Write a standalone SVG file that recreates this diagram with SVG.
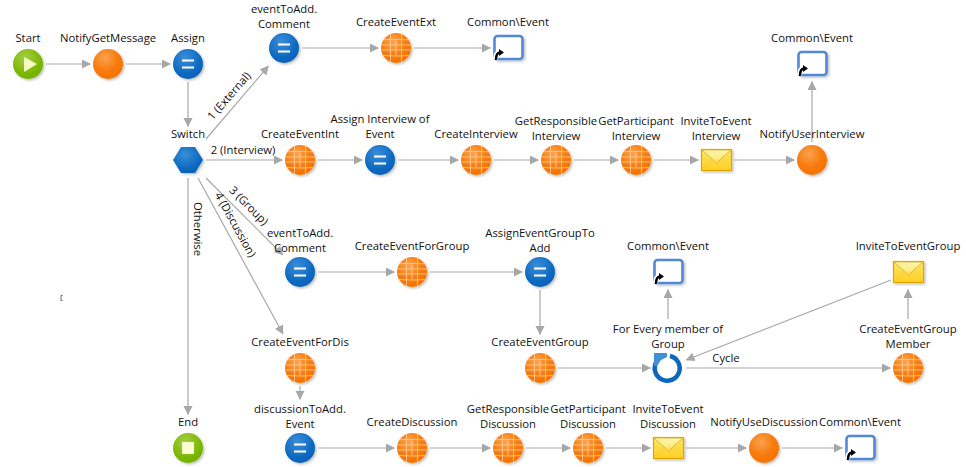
<svg xmlns="http://www.w3.org/2000/svg" width="966" height="467" viewBox="0 0 966 467">
<style>
text{font-family:"Open Sans","Noto Sans","Liberation Sans",sans-serif;font-size:11.3px;fill:#111;text-anchor:middle}
.c line{stroke:#a8a8a8;stroke-width:1.2;fill:none;marker-end:url(#a)}
</style>
<defs>
<marker id="a" markerUnits="userSpaceOnUse" markerWidth="10" markerHeight="10" refX="8.500" refY="4.500" orient="auto"><path d="M0 0L9 4.500L0 9z" fill="#a8a8a8"/></marker>
<radialGradient id="gO" cx=".4" cy=".3" r=".75"><stop offset="0" stop-color="#fba24e"/><stop offset=".6" stop-color="#f87a0a"/><stop offset="1" stop-color="#f57200"/></radialGradient>
<radialGradient id="gB" cx=".4" cy=".3" r=".8"><stop offset="0" stop-color="#3a8fd8"/><stop offset=".7" stop-color="#0a66bd"/><stop offset="1" stop-color="#0660b5"/></radialGradient>
<radialGradient id="gG" cx=".4" cy=".3" r=".8"><stop offset="0" stop-color="#a4cf45"/><stop offset=".7" stop-color="#77b500"/><stop offset="1" stop-color="#70ad00"/></radialGradient>
<linearGradient id="gY" x1="0" y1="0" x2="0" y2="1"><stop offset="0" stop-color="#ffe566"/><stop offset="1" stop-color="#ffcf24"/></linearGradient>
<linearGradient id="gF" x1="0" y1="0" x2="0" y2="1"><stop offset="0" stop-color="#fff9b8"/><stop offset="1" stop-color="#ffe25a"/></linearGradient>
<filter id="s" x="-20%" y="-20%" width="150%" height="150%"><feDropShadow dx="1.500" dy="1.500" stdDeviation="1.200" flood-color="#000" flood-opacity=".25"/></filter>
<clipPath id="cc"><circle r="15"/></clipPath>
<g id="exec"><circle r="15" fill="url(#gO)" filter="url(#s)"/></g>
<g id="agg"><circle r="15" fill="url(#gO)" filter="url(#s)"/><g clip-path="url(#cc)" stroke="#fcc894" stroke-width=".9" fill="none"><path d="M-15-8Q0-9.500 15-8M-15-3H15M-15 2H15M-15 7.500Q0 8.500 15 7.500M-5.500-15V15M0-8V7.500M5.500-15V15"/></g></g>
<g id="assign"><circle r="15" fill="url(#gB)" filter="url(#s)"/><path d="M-6-3.500H6M-6 3.500H6" stroke="#fff" stroke-width="2.200"/></g>
<g id="ref"><rect x="-13.500" y="-12" width="28" height="23" rx="3" fill="#fff" stroke="#5288d6" stroke-width="2.600" filter="url(#s)"/><path d="M-12.500 12c0-6 1.500-8 5-8" fill="none" stroke="#fff" stroke-width="5"/><path d="M-12 12c0-5 1.500-7.500 4-7.500" fill="none" stroke="#000" stroke-width="2.600"/><path d="M-9 1L-4 4.500L-9 8z" fill="#000"/></g>
<g id="mail"><rect x="-14.500" y="-10.500" width="30" height="21" fill="url(#gY)" stroke="#dca600" stroke-width="1.200" filter="url(#s)"/><path d="M-14 -10L0.500 3L15 -10z" fill="url(#gF)" stroke="#e6b422" stroke-width="1"/><path d="M-14 10L-4 -.5M15 10L5 -.5" stroke="#f4cc40" fill="none"/></g>
</defs>
<rect width="966" height="467" fill="#fff"/>
<g id="connectors" class="c">
<line x1="46" y1="64" x2="90.500" y2="64"/>
<line x1="126" y1="64" x2="170.500" y2="64"/>
<line x1="188" y1="82" x2="188" y2="126.500"/>
<line x1="206" y1="139" x2="268.500" y2="66"/>
<line x1="302" y1="48" x2="378.500" y2="48"/>
<line x1="414" y1="48" x2="490.500" y2="48"/>
<line x1="206" y1="160" x2="282.500" y2="160"/>
<line x1="318" y1="160" x2="362.500" y2="160"/>
<line x1="398" y1="160" x2="458.500" y2="160"/>
<line x1="494" y1="160" x2="538.500" y2="160"/>
<line x1="574" y1="160" x2="618.500" y2="160"/>
<line x1="654" y1="160" x2="698.500" y2="160"/>
<line x1="734" y1="160" x2="794.500" y2="160"/>
<line x1="812" y1="142" x2="812" y2="81.500"/>
<line x1="206" y1="178" x2="283" y2="255"/>
<line x1="198" y1="178" x2="283" y2="334"/>
<line x1="188" y1="178" x2="188" y2="414.500"/>
<line x1="318" y1="272" x2="394.500" y2="272"/>
<line x1="430" y1="272" x2="522.500" y2="272"/>
<line x1="540" y1="290" x2="540" y2="334.500"/>
<line x1="558" y1="368" x2="650.500" y2="368"/>
<line x1="668" y1="319" x2="668" y2="289.500"/>
<line x1="686" y1="368" x2="890.500" y2="368"/>
<line x1="908" y1="319" x2="908" y2="289.500"/>
<line x1="891" y1="280" x2="686" y2="360"/>
<line x1="300" y1="386" x2="300" y2="399.500"/>
<line x1="318" y1="448" x2="394.500" y2="448"/>
<line x1="430" y1="448" x2="490.500" y2="448"/>
<line x1="526" y1="448" x2="570.500" y2="448"/>
<line x1="606" y1="448" x2="650.500" y2="448"/>
<line x1="686" y1="448" x2="746.500" y2="448"/>
<line x1="782" y1="448" x2="842.500" y2="448"/>
</g>
<g id="edge-labels">
<text transform="translate(232,98.500) rotate(-49)">1 (External)</text>
<text x="243" y="154">2 (Interview)</text>
<text transform="translate(246,208.500) rotate(45)">3 (Group)</text>
<text transform="translate(232,226.500) rotate(61)">4 (Discussion)</text>
<text transform="translate(194,229) rotate(90)">Otherwise</text>
<text x="726" y="362">Cycle</text>
</g>
<g id="start"><text x="28" y="42">Start</text><circle cx="28" cy="64" r="15" fill="url(#gG)" filter="url(#s)"/><path d="M24 57L37 64L24 72z" fill="#f5fbc0"/></g>
<g id="notifygetmessage"><text x="108" y="42">NotifyGetMessage</text><use href="#exec" x="108" y="64"/></g>
<g id="assign1"><text x="188" y="42">Assign</text><use href="#assign" x="188" y="64"/></g>
<g id="eventtoadd1"><text x="284" y="13">eventToAdd.</text><text x="284" y="28">Comment</text><use href="#assign" x="284" y="48"/></g>
<g id="createeventext"><text x="396" y="26">CreateEventExt</text><use href="#agg" x="396" y="48"/></g>
<g id="common1"><text x="508" y="26">Common\Event</text><use href="#ref" x="508" y="48"/></g>
<g id="common2"><text x="812" y="42">Common\Event</text><use href="#ref" x="812" y="64"/></g>
<g id="switch"><text x="188" y="138">Switch</text><path d="M181 147H195L203 160L195 173H181L173 160z" fill="url(#gB)" filter="url(#s)"/></g>
<g id="createeventint"><text x="300" y="138">CreateEventInt</text><use href="#agg" x="300" y="160"/></g>
<g id="assigninterview"><text x="380" y="123">Assign Interview of</text><text x="380" y="138">Event</text><use href="#assign" x="380" y="160"/></g>
<g id="createinterview"><text x="476" y="138">CreateInterview</text><use href="#agg" x="476" y="160"/></g>
<g id="getresponsible1"><text x="556" y="125">GetResponsible</text><text x="556" y="140">Interview</text><use href="#agg" x="556" y="160"/></g>
<g id="getparticipant1"><text x="636" y="125">GetParticipant</text><text x="636" y="140">Interview</text><use href="#agg" x="636" y="160"/></g>
<g id="invite1"><text x="716" y="125">InviteToEvent</text><text x="716" y="140">Interview</text><use href="#mail" x="716" y="160"/></g>
<g id="notifyuser"><text x="812" y="138">NotifyUserInterview</text><use href="#exec" x="812" y="160"/></g>
<g id="eventtoadd2"><text x="300" y="237">eventToAdd.</text><text x="300" y="252">Comment</text><use href="#assign" x="300" y="272"/></g>
<g id="createeventforgroup"><text x="412" y="250">CreateEventForGroup</text><use href="#agg" x="412" y="272"/></g>
<g id="assigneventgroup"><text x="540" y="237">AssignEventGroupTo</text><text x="540" y="252">Add</text><use href="#assign" x="540" y="272"/></g>
<g id="common3"><text x="668" y="250">Common\Event</text><use href="#ref" x="668" y="272"/></g>
<g id="invitegroup"><text x="908" y="250">InviteToEventGroup</text><use href="#mail" x="908" y="272"/></g>
<g id="createeventfordis"><text x="300" y="346">CreateEventForDis</text><use href="#agg" x="300" y="368"/></g>
<g id="createeventgroup"><text x="540" y="346">CreateEventGroup</text><use href="#agg" x="540" y="368"/></g>
<g id="foreach"><text x="668" y="333">For Every member of</text><text x="668" y="348">Group</text><path d="M670 356A12.500 12.500 0 1 1 657 361" fill="none" stroke="#0a68bf" stroke-width="4.500"/><path d="M654 353H667V357L661 360L657 366H654z" fill="#3f90d8"/></g>
<g id="member"><text x="908" y="333">CreateEventGroup</text><text x="908" y="348">Member</text><use href="#agg" x="908" y="368"/></g>
<g id="end"><text x="188" y="426">End</text><circle cx="188" cy="448" r="15" fill="url(#gG)" filter="url(#s)"/><rect x="182" y="442" width="12" height="12" fill="#fbfdd0"/></g>
<g id="discussiontoadd"><text x="300" y="413">discussionToAdd.</text><text x="300" y="428">Event</text><use href="#assign" x="300" y="448"/></g>
<g id="creatediscussion"><text x="412" y="426">CreateDiscussion</text><use href="#agg" x="412" y="448"/></g>
<g id="getresponsible2"><text x="508" y="413">GetResponsible</text><text x="508" y="428">Discussion</text><use href="#agg" x="508" y="448"/></g>
<g id="getparticipant2"><text x="588" y="413">GetParticipant</text><text x="588" y="428">Discussion</text><use href="#agg" x="588" y="448"/></g>
<g id="invite2"><text x="668" y="413">InviteToEvent</text><text x="668" y="428">Discussion</text><use href="#mail" x="668" y="448"/></g>
<g id="notifyuse"><text x="764" y="426">NotifyUseDiscussion</text><use href="#exec" x="764" y="448"/></g>
<g id="common4"><text x="860" y="426">Common\Event</text><use href="#ref" x="860" y="448"/></g>
<path d="M62.500 295.500H61V300.500H62.500" fill="none" stroke="#666" stroke-width="1"/>
</svg>
